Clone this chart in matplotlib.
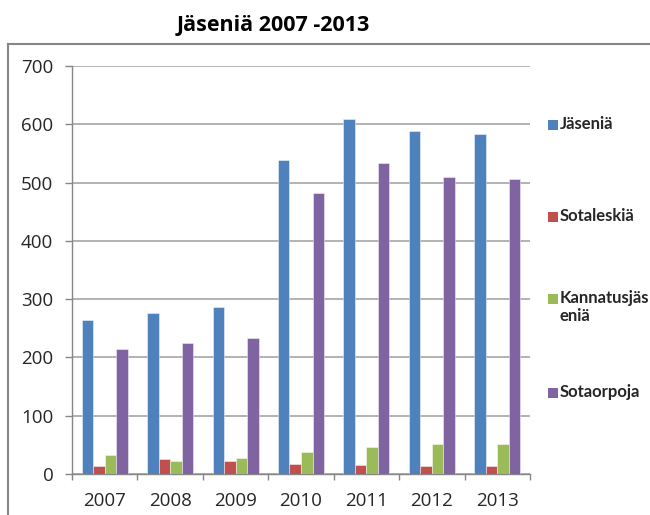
import matplotlib
matplotlib.use("Agg")
import matplotlib.pyplot as plt
import numpy as np
from matplotlib.lines import Line2D
from matplotlib.patches import Rectangle

# Data
years = ["2007", "2008", "2009", "2010", "2011", "2012", "2013"]
series_names = ["Jäseniä", "Sotaleskiä", "Kannatusjäs\neniä", "Sotaorpoja"]
jaseniä = [264, 276, 286, 538, 609, 589, 584]
sotaleskiä = [14, 25, 22, 18, 15, 14, 14]
kannatusjäseniä = [33, 22, 27, 37, 47, 51, 51]
sotaorpoja = [215, 225, 234, 482, 533, 510, 506]
colors = ["#4F81BD", "#C0504D", "#9BBB59", "#8064A2"]

plt.rcParams["font.family"] = ["Open Sans", "DejaVu Sans"]

W, H = 650, 515
fig = plt.figure(figsize=(W / 100, H / 100), dpi=100)
ax = fig.add_axes([72 / W, 1 - 474 / H, (530 - 72) / W, (474 - 66) / H])

x = np.arange(len(years))
bw = 0.176
all_series = [jaseniä, sotaleskiä, kannatusjäseniä, sotaorpoja]
for i, (vals, col) in enumerate(zip(all_series, colors)):
    ax.bar(x + (i - 1.5) * bw, vals, bw, color=col,
           edgecolor=(1, 1, 1, 0.45), linewidth=0.7, zorder=3)

ax.set_xlim(-0.5, len(years) - 0.5)
ax.set_ylim(0, 700)
ax.set_yticks(np.arange(0, 701, 100))
ax.yaxis.grid(True, color="#A6A6A6", linewidth=1.2, zorder=0)
ax.set_axisbelow(True)

ax.set_xticks(x)
ax.set_xticklabels(years)
ax.set_xticks(np.arange(-0.5, len(years)), minor=True)
ax.tick_params(axis="x", which="major", length=0, pad=13, labelsize=13.5,
               colors="#262626")
ax.tick_params(axis="x", which="minor", length=4.5, width=1, color="#868686")
ax.tick_params(axis="y", length=5, width=1, color="#868686", pad=8.5,
               labelsize=13.5, labelcolor="#262626")

for side in ["top", "right"]:
    ax.spines[side].set_visible(False)
for side in ["left", "bottom"]:
    ax.spines[side].set_color("#868686")
    ax.spines[side].set_linewidth(1)

# Chart area border (left and top visible in the crop)
fig.add_artist(Line2D([8 / W, 8 / W], [0, 1 - 44 / H], color="#868686",
                      linewidth=1.5, transform=fig.transFigure))
fig.add_artist(Line2D([8 / W, 1], [1 - 44 / H, 1 - 44 / H], color="#868686",
                      linewidth=1.5, transform=fig.transFigure))

fig.text(273 / W, 1 - 25 / H, "Jäseniä 2007 -2013", ha="center", va="center",
         fontsize=15.5, fontweight="bold")

# Legend
leg_y = [125, 217, 299, 393]
for name, col, yy in zip(series_names, colors, leg_y):
    fig.add_artist(Rectangle((548 / W, 1 - (yy + 5) / H), 10 / W, 10 / H,
                             facecolor=col, edgecolor="none",
                             transform=fig.transFigure))
    fig.text(560 / W, 1 - (yy - 9) / H, name, ha="left", va="top",
             fontsize=12, fontweight="bold", color="#262626", linespacing=1.15,
             family=["Lato", "DejaVu Sans"])

fig.savefig("out.png", dpi=100)
